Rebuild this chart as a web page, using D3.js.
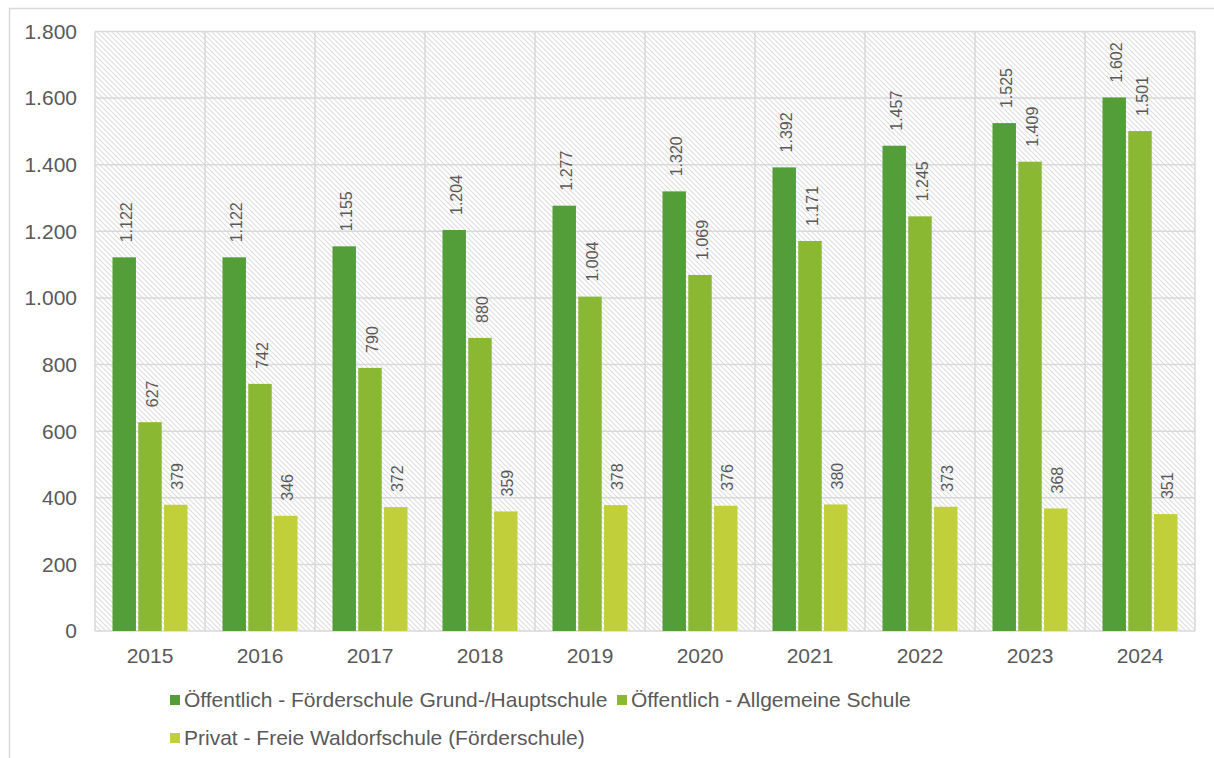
<!DOCTYPE html>
<html>
<head>
<meta charset="utf-8">
<script src="https://cdn.jsdelivr.net/npm/d3@7"></script>
<style>
  html, body { margin: 0; padding: 0; background: #fff; }
  svg { display: block; font-family: "Liberation Sans", Arial, sans-serif; }
</style>
</head>
<body>
<svg id="chart" width="1214" height="758"></svg>
<script>
const years = ["2015","2016","2017","2018","2019","2020","2021","2022","2023","2024"];
const seriesNames = [
  "Öffentlich - Förderschule Grund-/Hauptschule",
  "Öffentlich - Allgemeine Schule",
  "Privat - Freie Waldorfschule (Förderschule)"
];
const foerderschule = [1122, 1122, 1155, 1204, 1277, 1320, 1392, 1457, 1525, 1602];
const allgemeine    = [627, 742, 790, 880, 1004, 1069, 1171, 1245, 1409, 1501];
const waldorf       = [379, 346, 372, 359, 378, 376, 380, 373, 368, 351];
const yTicks = [0, 200, 400, 600, 800, 1000, 1200, 1400, 1600, 1800];
const colors = ["#549E39", "#8AB833", "#C0CF3A"];

const seriesValues = [foerderschule, allgemeine, waldorf];
const fmt = d3.formatLocale({decimal: ",", thousands: ".", grouping: [3], currency: ["", "€"]}).format(",d");

const svg = d3.select("#chart");
const plot = {left: 95, top: 31.5, right: 1195, bottom: 631};

// outer border
svg.append("rect").attr("x", 9.5).attr("y", 8.5).attr("width", 1300).attr("height", 900)
  .attr("fill", "#fff").attr("stroke", "#d9d9d9").attr("stroke-width", 1.5);

// hatch pattern
const defs = svg.append("defs");
const pat = defs.append("pattern").attr("id", "hatch").attr("patternUnits", "userSpaceOnUse")
  .attr("width", 5).attr("height", 5);
pat.append("rect").attr("width", 5).attr("height", 5).attr("fill", "#fff");
pat.append("path").attr("d", "M-1,-1 L6,6 M-1,4 L1,6 M4,-1 L6,1")
  .attr("stroke", "#dedede").attr("stroke-width", 1.1);

const x = d3.scaleBand().domain(years).range([plot.left, plot.right]);
const xi = d3.scaleBand().domain(d3.range(3)).range([17.5, x.bandwidth() - 17.5]).paddingInner(0.09);
const y = d3.scaleLinear().domain([0, 1800]).range([plot.bottom, plot.top]);

svg.append("rect").attr("x", plot.left).attr("y", plot.top)
  .attr("width", plot.right - plot.left).attr("height", plot.bottom - plot.top)
  .attr("fill", "url(#hatch)");

// horizontal gridlines
svg.append("g").selectAll("line").data(yTicks).join("line")
  .attr("x1", plot.left).attr("x2", plot.right)
  .attr("y1", d => y(d)).attr("y2", d => y(d))
  .attr("stroke", "#d9d9d9").attr("stroke-width", 1.5);
// vertical gridlines
const vlines = years.map(yr => x(yr)).concat([plot.right]);
svg.append("g").selectAll("line").data(vlines).join("line")
  .attr("x1", d => d).attr("x2", d => d)
  .attr("y1", plot.top).attr("y2", plot.bottom)
  .attr("stroke", "#d9d9d9").attr("stroke-width", 1.5);

// y axis labels
svg.append("g").selectAll("text").data(yTicks).join("text")
  .attr("x", 77).attr("y", d => y(d)).attr("dy", "0.35em")
  .attr("text-anchor", "end").attr("font-size", 21).attr("fill", "#595959")
  .text(d => fmt(d));

// x axis labels
svg.append("g").selectAll("text").data(years).join("text")
  .attr("x", d => x(d) + x.bandwidth() / 2).attr("y", 656).attr("dy", "0.35em")
  .attr("text-anchor", "middle").attr("font-size", 21).attr("fill", "#595959")
  .text(d => d);

// bars
const flat = [];
seriesValues.forEach((vals, s) => vals.forEach((v, i) => flat.push({s, year: years[i], v})));

svg.append("g").selectAll("rect").data(flat).join("rect")
  .attr("x", d => x(d.year) + xi(d.s))
  .attr("y", d => y(d.v))
  .attr("width", xi.bandwidth())
  .attr("height", d => y(0) - y(d.v))
  .attr("fill", d => colors[d.s]);

// data labels
svg.append("g").selectAll("text").data(flat).join("text")
  .attr("transform", d => `translate(${x(d.year) + xi(d.s) + xi.bandwidth() / 2 + 2},${y(d.v) - 15}) rotate(-90)`)
  .attr("dy", "0.35em")
  .attr("text-anchor", "start").attr("font-size", 16).attr("fill", "#595959")
  .text(d => fmt(d.v));

// legend
const legendItems = [
  {s: 0, x: 170, y: 700},
  {s: 1, x: 617, y: 700},
  {s: 2, x: 170, y: 738}
];
const lg = svg.append("g").selectAll("g").data(legendItems).join("g")
  .attr("transform", d => `translate(${d.x},${d.y})`);
lg.append("rect").attr("x", 0).attr("y", -5).attr("width", 10).attr("height", 10)
  .attr("fill", d => colors[d.s]);
lg.append("text").attr("x", 14).attr("y", 0).attr("dy", "0.35em")
  .attr("font-size", 21).attr("fill", "#595959")
  .text(d => seriesNames[d.s]);
</script>
</body>
</html>
